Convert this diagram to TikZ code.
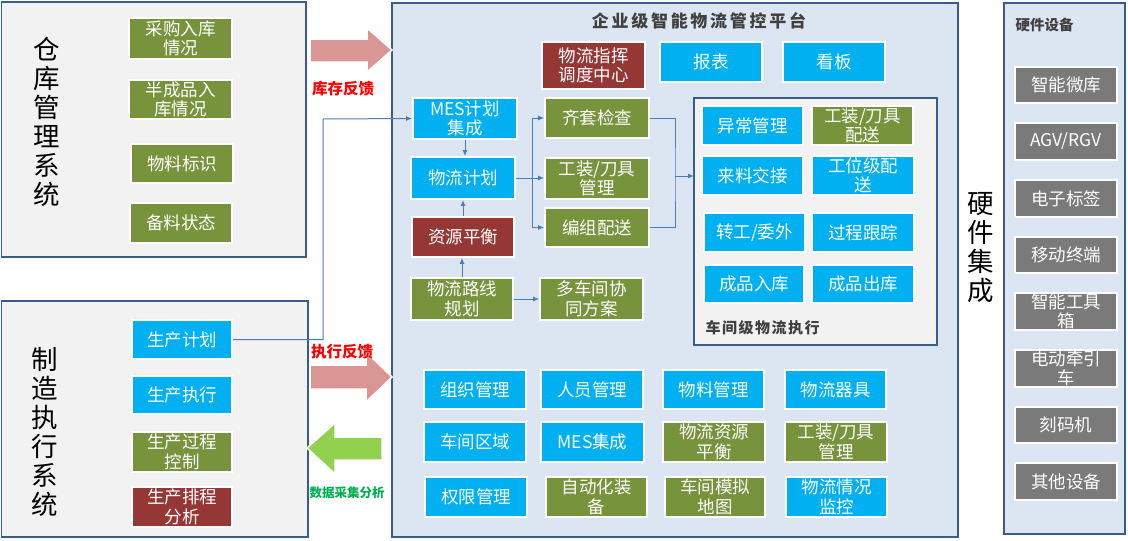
\documentclass[tikz,border=0pt]{standalone}
\usepackage{fontspec}
\setmainfont{Noto Sans CJK SC}
\usetikzlibrary{arrows.meta}
\definecolor{cyanC}{HTML}{00B0F0}
\definecolor{greenC}{HTML}{77933C}
\definecolor{redC}{HTML}{953735}
\definecolor{grayC}{HTML}{7A7A7A}
\definecolor{panelBlue}{HTML}{DCE6F2}
\definecolor{panelGray}{HTML}{F2F2F2}
\definecolor{borderC}{HTML}{385D8A}
\definecolor{lineC}{HTML}{4A7EBB}
\definecolor{pinkC}{HTML}{D99694}
\definecolor{lgreenC}{HTML}{92D050}
\definecolor{dgreenC}{HTML}{00B050}
\definecolor{titleC}{HTML}{404040}
\newcommand{\mybox}[7]{%
  \pgfmathsetmacro{\bxcx}{(#3+#5)/2}%
  \pgfmathsetmacro{\bxcy}{(#4+#6)/2}%
  \pgfmathsetmacro{\bxw}{#5-#3}%
  \pgfmathsetmacro{\bxh}{#6-#4}%
  \node[#2, minimum width=\bxw pt, minimum height=\bxh pt] (#1) at (\bxcx,\bxcy) {#7};}
\tikzset{
  bx/.style={draw=white, line width=1.8pt, text=white, align=center, inner sep=0pt,
    font=\fontsize{17.5}{19.5}\selectfont},
  cbox/.style={bx, fill=cyanC},
  gbox/.style={bx, fill=greenC},
  rbox/.style={bx, fill=redC},
  hbox/.style={bx, fill=grayC},
  panel/.style={draw=borderC, line width=1.8pt},
  conn/.style={draw=lineC, line width=1pt, -{Latex[length=6pt,width=5pt]}},
  ln/.style={draw=lineC, line width=1pt},
  bigarrow/.style={draw=white, line width=1.5pt},
  vtext/.style={align=center, font=\fontsize{26.5}{29}\selectfont, text=black},
  flabel/.style={font=\fontsize{15.5}{17}\selectfont\bfseries}
}
\begin{document}
\begin{tikzpicture}[x=1pt,y=-1pt]
\useasboundingbox (0,0) rectangle (1128,541);
\fill[white] (0,0) rectangle (1128,541);

% panels
\draw[panel, fill=panelGray] (1.5,2) rectangle (306,257);
\draw[panel, fill=panelGray] (1.5,301) rectangle (308,537);
\draw[panel, fill=panelBlue] (392,3) rectangle (958,537);
\draw[panel, fill=panelBlue] (1004,3) rectangle (1125,534);
\draw[panel, fill=panelGray] (694,98) rectangle (937,345);

% vertical titles
\node[vtext] (tw) at (47,122) {仓\\库\\管\\理\\系\\统};
\node[vtext] (tm) at (45,432) {制\\造\\执\\行\\系\\统};
\node[vtext] (th) at (981,248) {硬\\件\\集\\成};

% panel titles
\node[font=\fontsize{17}{19}\selectfont\bfseries, text=titleC] (ttl) at (699,21) {\addfontfeature{LetterSpace=16}企业级智能物流管控平台};
\node[font=\fontsize{15}{17}\selectfont\bfseries, text=titleC, anchor=west] (tsub) at (702,328) {\addfontfeature{LetterSpace=10}车间级物流执行};
\node[font=\fontsize{14.5}{16}\selectfont\bfseries, text=titleC, anchor=west] (thw) at (1012,25) {硬件设备};

% warehouse boxes
\mybox{cg}{gbox}{129}{18}{232}{59}{采购入库\\情况}
\mybox{bcp}{gbox}{129}{80}{232}{119}{半成品入\\库情况}
\mybox{wlbs}{gbox}{131}{144}{233}{183}{物料标识}
\mybox{blzt}{gbox}{130}{203}{232}{243}{备料状态}

% manufacturing boxes
\mybox{scjh}{cbox}{132}{320}{232}{359}{生产计划}
\mybox{sczx}{cbox}{132}{376}{232}{414}{生产执行}
\mybox{scgc}{gbox}{132}{432}{232}{472}{生产过程\\控制}
\mybox{scpc}{rbox}{132}{487}{232}{527}{生产排程\\分析}

% middle top
\mybox{zh}{rbox}{542}{42}{645}{89}{物流指挥\\调度中心}
\mybox{bb}{cbox}{660}{42}{762}{82}{报表}
\mybox{kb}{cbox}{783}{42}{885}{82}{看板}

% middle left column
\mybox{mes}{cbox}{413}{98}{517}{139}{MES计划\\集成}
\mybox{wljh}{cbox}{411}{157}{515}{199}{物流计划}
\mybox{zyph}{rbox}{412}{217}{514}{257}{资源平衡}
\mybox{wllx}{gbox}{411}{278}{513}{320}{物流路线\\规划}
\mybox{dcj}{gbox}{540}{278}{643}{320}{多车间协\\同方案}

% middle column
\mybox{qt}{gbox}{545}{98}{649}{138}{齐套检查}
\mybox{gzgl}{gbox}{545}{158}{649}{199}{工装/刀具\\管理}
\mybox{bz}{gbox}{545}{208}{649}{247}{编组配送}

% sub panel boxes
\mybox{yc}{cbox}{702}{106}{803}{145}{异常管理}
\mybox{gzps}{gbox}{812}{106}{913}{145}{工装/刀具\\配送}
\mybox{ll}{cbox}{702}{156}{803}{195}{来料交接}
\mybox{gw}{cbox}{812}{156}{914}{195}{工位级配\\送}
\mybox{zg}{cbox}{704}{213}{805}{252}{转工/委外}
\mybox{gcgz}{cbox}{812}{213}{914}{252}{过程跟踪}
\mybox{cprk}{cbox}{704}{265}{804}{303}{成品入库}
\mybox{cpck}{cbox}{812}{265}{914}{303}{成品出库}

% bottom grid
\mybox{zz}{cbox}{424}{370}{526}{409}{组织管理}
\mybox{ry}{cbox}{541}{370}{643}{409}{人员管理}
\mybox{wlgl}{cbox}{663}{370}{764}{409}{物料管理}
\mybox{wlqj}{cbox}{785}{370}{886}{409}{物流器具}
\mybox{cjqy}{cbox}{424}{422}{526}{462}{车间区域}
\mybox{mesjc}{cbox}{541}{422}{644}{462}{MES集成}
\mybox{wlzy}{gbox}{663}{422}{765}{462}{物流资源\\平衡}
\mybox{gzgl2}{gbox}{785}{422}{887}{462}{工装/刀具\\管理}
\mybox{qx}{cbox}{425}{477}{527}{517}{权限管理}
\mybox{zdh}{gbox}{546}{477}{647}{517}{自动化装\\备}
\mybox{cjmn}{gbox}{665}{477}{765}{517}{车间模拟\\地图}
\mybox{wlqk}{cbox}{786}{477}{887}{517}{物流情况\\监控}

% hardware boxes
\mybox{h1}{hbox}{1015}{67}{1117}{103}{智能微库}
\mybox{h2}{hbox}{1015}{123}{1117}{160}{AGV/RGV}
\mybox{h3}{hbox}{1015}{180}{1117}{217}{电子标签}
\mybox{h4}{hbox}{1015}{237}{1117}{273}{移动终端}
\mybox{h5}{hbox}{1015}{293}{1117}{330}{智能工具\\箱}
\mybox{h6}{hbox}{1015}{350}{1117}{387}{电动牵引\\车}
\mybox{h7}{hbox}{1015}{407}{1117}{443}{刻码机}
\mybox{h8}{hbox}{1015}{463}{1117}{500}{其他设备}

% connectors
\coordinate (tb) at (323,119);
\draw[conn] (scjh.east) -| (tb) -- (mes.west);
\draw[conn] (mes.south) -- (mes.south |- wljh.north);
\draw[conn] (zyph.north) -- (zyph.north |- wljh.south);
\draw[conn] (wllx.north) -- (wllx.north |- zyph.south);
\draw[conn] (wllx.east) -- (wllx.east -| dcj.west);
\coordinate (fk) at (532,178);
\draw[ln] (wljh.east) -- (fk);
\draw[conn] (fk) -- (fk -| gzgl.west);
\draw[conn] (fk) |- (qt.west);
\draw[conn] (fk) |- (bz.west);
\coordinate (mg) at (675,176);
\draw[ln] (qt.east) -| (mg) |- (bz.east);
\draw[conn] (mg) -- (694,176);

% big arrows
\draw[bigarrow, fill=pinkC] (310,39) -- (367,39) -- (367,28) -- (392,50) -- (367,72) -- (367,62) -- (310,62) -- cycle;
\draw[bigarrow, fill=pinkC] (310,365) -- (366,365) -- (366,352) -- (392,377) -- (366,402) -- (366,389) -- (310,389) -- cycle;
\draw[bigarrow, fill=lgreenC] (382,437) -- (335,437) -- (335,423) -- (307,448) -- (335,474) -- (335,460) -- (382,460) -- cycle;

\node[flabel, text=red] (l1) at (343,89) {库存反馈};
\node[flabel, text=red] (l2) at (342,352) {执行反馈};
\node[font=\fontsize{12.5}{14}\selectfont\bfseries, text=dgreenC] (l3) at (347,493) {数据采集分析};
\end{tikzpicture}
\end{document}
